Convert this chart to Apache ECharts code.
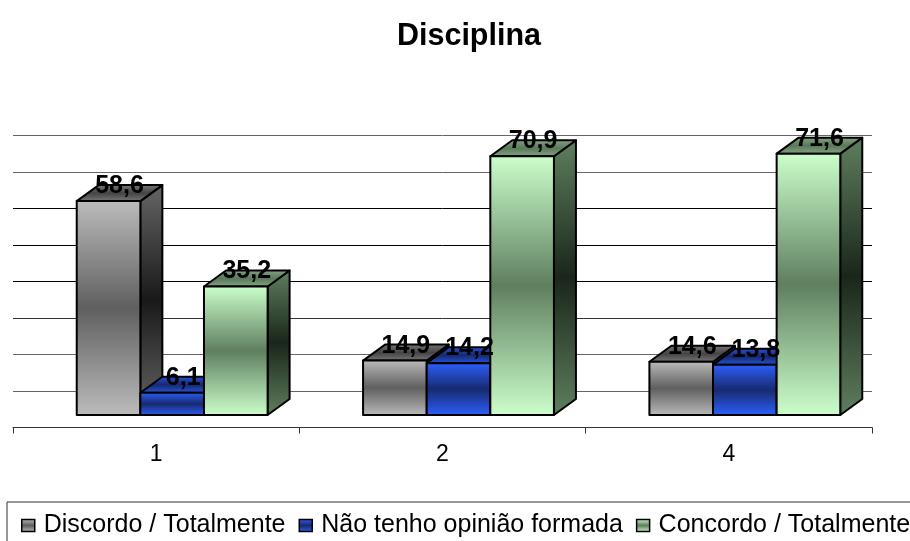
<!DOCTYPE html>
<html>
<head>
<meta charset="utf-8">
<style>html,body{margin:0;padding:0;background:#fff;overflow:hidden}#c{width:910px;height:541px}</style>
<script src="https://cdn.jsdelivr.net/npm/echarts@6/dist/echarts.min.js"></script>
</head>
<body>
<div id="c"></div>
<script>
const categories = ['1', '2', '4'];
const seriesNames = ['Discordo / Totalmente', 'Não tenho opinião formada', 'Concordo / Totalmente'];
const discordo = [58.6, 14.9, 14.6];
const semOpiniao = [6.1, 14.2, 13.8];
const concordo = [35.2, 70.9, 71.6];
const allValues = [discordo, semOpiniao, concordo];

const FONT = '"Liberation Sans", Arial, sans-serif';
const DEPTH_X = 22, DEPTH_Y = 16, FLOOR_LIFT = 12.5, GROUP_SHIFT = 16, BAR_RATIO = 0.2222;

function grad(x2, y2, a, b) {
  return new echarts.graphic.LinearGradient(0, 0, x2, y2, [
    { offset: 0, color: a }, { offset: 0.5, color: b }, { offset: 1, color: a }
  ]);
}
const palettes = [
  { front: ['#bcbcbc', '#5f5f5f'], side: ['#666666', '#191919'], top: ['#7a7a7a', '#444444'] },
  { front: ['#2d60ff', '#172a70'], side: ['#172a70', '#0a1230'], top: ['#2a55e0', '#16296f'] },
  { front: ['#ccffcc', '#5f7f5f'], side: ['#5f7f5f', '#1a261a'], top: ['#86a886', '#5a785a'] }
];

function makeRender(si) {
  const p = palettes[si];
  return function (params, api) {
    const idx = api.value(0), v = api.value(1);
    const band = api.size([1, 0])[0];
    const w = band * BAR_RATIO;
    const c0 = api.coord([idx, 0]);
    const c1 = api.coord([idx, v]);
    const x0 = c0[0] + GROUP_SHIFT + (si - 1.5) * w;
    const x1 = x0 + w;
    const yb = c0[1] - FLOOR_LIFT;
    const yt = c1[1] - FLOOR_LIFT;
    const stroke = { stroke: '#000', lineWidth: 2, lineJoin: 'round' };
    const label = v.toFixed(1).replace('.', ',');
    return {
      type: 'group',
      children: [
        { type: 'polygon', z2: 1,
          shape: { points: [[x1, yb], [x1 + DEPTH_X, yb - DEPTH_Y], [x1 + DEPTH_X, yt - DEPTH_Y], [x1, yt]] },
          style: Object.assign({ fill: grad(0, 1, p.side[0], p.side[1]) }, stroke) },
        { type: 'polygon', z2: 1,
          shape: { points: [[x0, yt], [x0 + DEPTH_X, yt - DEPTH_Y], [x1 + DEPTH_X, yt - DEPTH_Y], [x1, yt]] },
          style: Object.assign({ fill: grad(0, 1, p.top[0], p.top[1]) }, stroke) },
        { type: 'polygon', z2: 2,
          shape: { points: [[x0, yb], [x0, yt], [x1, yt], [x1, yb]] },
          style: Object.assign({ fill: grad(0, 1, p.front[0], p.front[1]) }, stroke) },
        { type: 'text', z2: 100,
          style: { text: label, x: x0 + w / 2 + DEPTH_X / 2, y: yt - DEPTH_Y + 1, align: 'center', verticalAlign: 'middle',
                   fill: '#000', font: 'bold 25px ' + FONT } }
      ]
    };
  };
}

const chart = echarts.init(document.getElementById('c'), null, { renderer: 'canvas' });
chart.setOption({
  animation: false,
  backgroundColor: '#fff',
  title: {
    text: 'Disciplina', left: 469, top: 21, padding: 0, textAlign: 'center',
    textStyle: { fontFamily: FONT, fontSize: 30.5, fontWeight: 'bold', color: '#000' }
  },
  legend: {
    left: 7, top: 502, orient: 'horizontal', width: 1100, selectedMode: false,
    padding: [11, 6, 9, 14], borderColor: '#333', borderWidth: 1, itemGap: 13,
    itemWidth: 13, itemHeight: 12,
    textStyle: { fontFamily: FONT, fontSize: 25, color: '#000', padding: [0, 0, 0, 4] },
    data: seriesNames.map((n, i) => ({
      name: n, icon: 'rect',
      itemStyle: { color: grad(0, 1, palettes[i].front[0], palettes[i].front[1]), borderColor: '#000', borderWidth: 1.5 }
    }))
  },
  grid: { left: 13, top: 135.5, width: 859, height: 292, containLabel: false },
  xAxis: {
    type: 'category', data: categories, boundaryGap: true,
    axisLine: { show: true, lineStyle: { color: '#333', width: 1 } },
    axisTick: { show: true, length: 6, lineStyle: { color: '#333' } },
    axisLabel: { fontFamily: FONT, fontSize: 23, color: '#000', margin: 16 },
    splitLine: { show: false }
  },
  yAxis: {
    type: 'value', min: 0, max: 80, interval: 10,
    axisLine: { show: false }, axisTick: { show: false }, axisLabel: { show: false },
    splitLine: { show: true, lineStyle: { color: ['#333', '#666', '#666', '#333', '#000', '#000', '#000', '#666', '#666'], width: 1 } }
  },
  series: allValues.map((vals, si) => ({
    type: 'custom', name: seriesNames[si], clip: false, z: 2,
    encode: { x: 0, y: 1 },
    renderItem: makeRender(si),
    itemStyle: { color: palettes[si].front[1] },
    data: vals.map((v, i) => [categories[i], v])
  }))
});
</script>
</body>
</html>
